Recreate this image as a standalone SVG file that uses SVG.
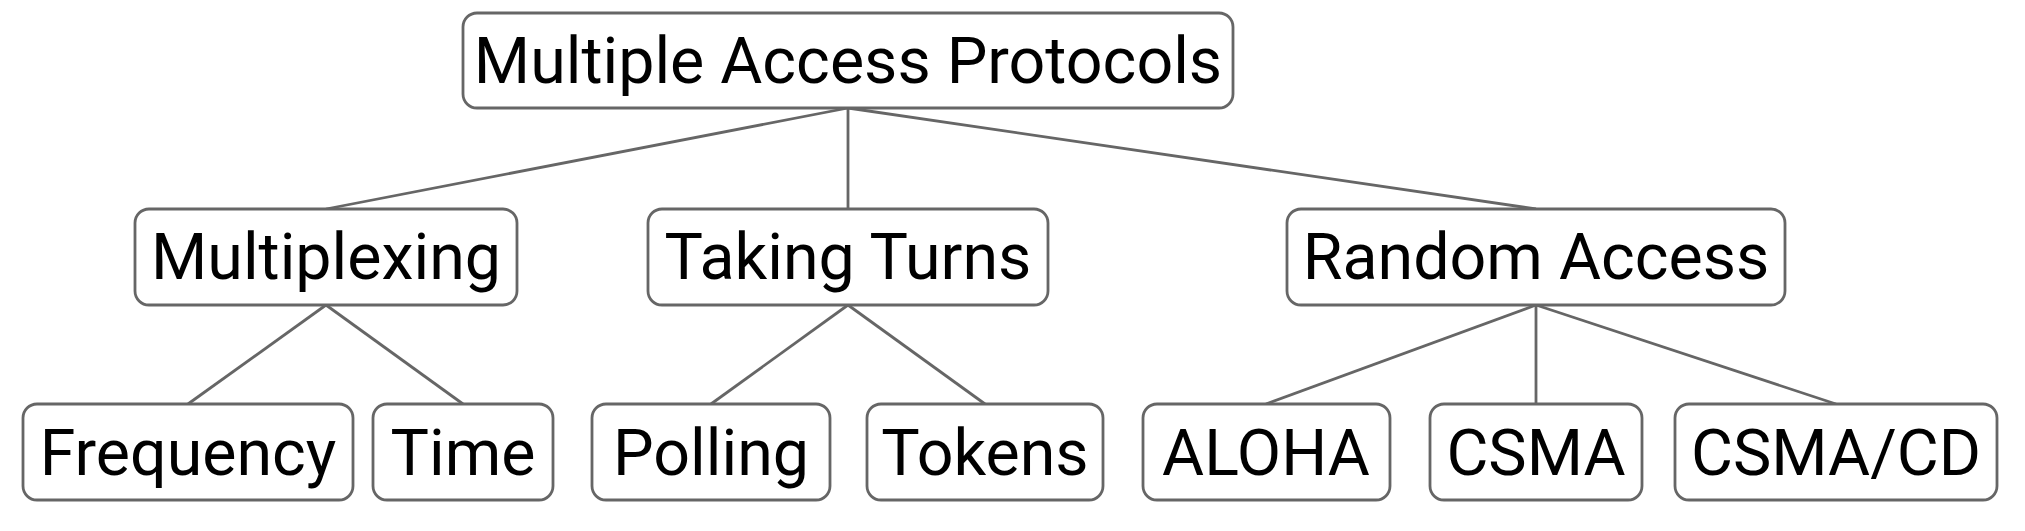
<svg xmlns="http://www.w3.org/2000/svg" width="2025" height="531" viewBox="0 0 2025 531">
<style>
.box{fill:#fff;stroke:#666;stroke-width:2.8}
.lbl{font-family:Roboto,"Liberation Sans",sans-serif;font-size:64.5px;fill:#000;text-anchor:middle}
.edge{stroke:#666;stroke-width:2.8;fill:none}
</style>
<rect width="2025" height="531" fill="#fff"/>
<g id="connectors">
<line class="edge" x1="848" y1="108" x2="326" y2="209"/>
<line class="edge" x1="848" y1="108" x2="848" y2="209"/>
<line class="edge" x1="848" y1="108" x2="1536" y2="209"/>
<line class="edge" x1="326" y1="305" x2="188" y2="404"/>
<line class="edge" x1="326" y1="305" x2="463" y2="404"/>
<line class="edge" x1="848" y1="305" x2="711" y2="404"/>
<line class="edge" x1="848" y1="305" x2="985" y2="404"/>
<line class="edge" x1="1536" y1="305" x2="1266" y2="404"/>
<line class="edge" x1="1536" y1="305" x2="1536" y2="404"/>
<line class="edge" x1="1536" y1="305" x2="1836" y2="404"/>
</g>
<g id="root"><rect class="box" x="463" y="13" width="770" height="95" rx="14"/><text class="lbl" x="848" y="83">Multiple Access Protocols</text></g>
<g id="multiplexing"><rect class="box" x="135" y="209" width="382" height="96" rx="14"/><text class="lbl" x="326" y="279">Multiplexing</text></g>
<g id="taking-turns"><rect class="box" x="648" y="209" width="400" height="96" rx="14"/><text class="lbl" x="848" y="279">Taking Turns</text></g>
<g id="random-access"><rect class="box" x="1287" y="209" width="498" height="96" rx="14"/><text class="lbl" x="1536" y="279">Random Access</text></g>
<g id="frequency"><rect class="box" x="23" y="404" width="330" height="96" rx="14"/><text class="lbl" x="188" y="475">Frequency</text></g>
<g id="time"><rect class="box" x="373" y="404" width="180" height="96" rx="14"/><text class="lbl" x="463" y="475">Time</text></g>
<g id="polling"><rect class="box" x="592" y="404" width="238" height="96" rx="14"/><text class="lbl" x="711" y="475">Polling</text></g>
<g id="tokens"><rect class="box" x="867" y="404" width="236" height="96" rx="14"/><text class="lbl" x="985" y="475">Tokens</text></g>
<g id="aloha"><rect class="box" x="1143" y="404" width="247" height="96" rx="14"/><text class="lbl" x="1266" y="475">ALOHA</text></g>
<g id="csma"><rect class="box" x="1430" y="404" width="212" height="96" rx="14"/><text class="lbl" x="1536" y="475">CSMA</text></g>
<g id="csma-cd"><rect class="box" x="1675" y="404" width="322" height="96" rx="14"/><text class="lbl" x="1836" y="475">CSMA/CD</text></g>
</svg>
